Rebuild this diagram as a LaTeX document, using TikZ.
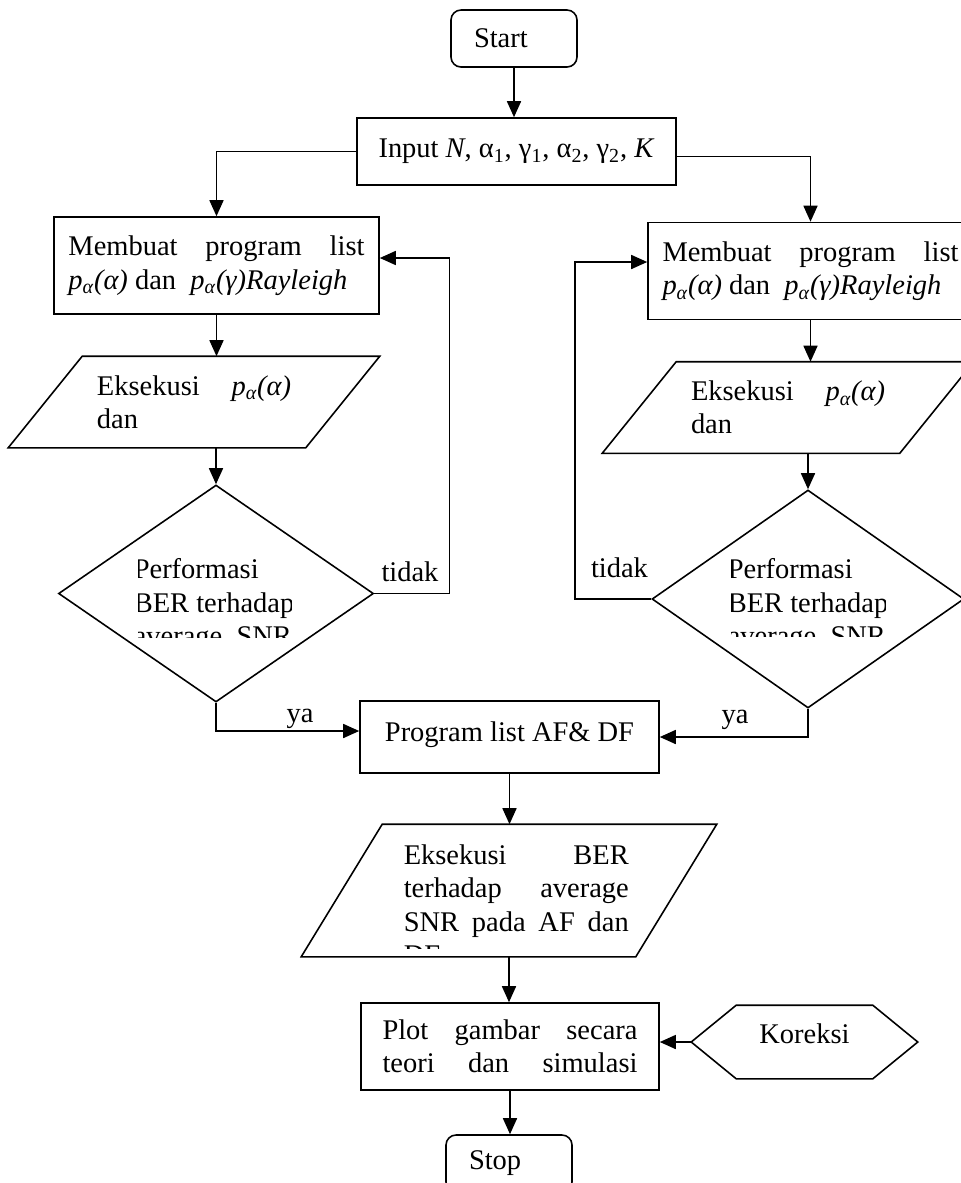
\documentclass[tikz,border=0pt]{standalone}
\usepackage{fontspec}
\setmainfont{Liberation Serif}
\usetikzlibrary{shapes.geometric,arrows.meta}
\hyphenpenalty=10000
\tolerance=10000
\hbadness=10000
\newcommand\flowfont{\fontsize{16.2pt}{19pt}\selectfont}
\newcommand\liftby[2]{\raisebox{#1}[\height][\depth]{#2}}

\begin{document}
\begin{tikzpicture}[
  x=0.2mm, y=-0.2mm, line width=0.9pt,
  >={Triangle[length=3.2mm,width=2.8mm]},
  every node/.style={font=\flowfont},
  term/.style={draw, rounded corners=2mm, minimum height=11.4mm, text width=16mm, inner xsep=4.6mm, align=left},
  process/.style={draw, rectangle, minimum width=65mm, minimum height=19.4mm, text width=59.2mm, align=justify},
  io/.style={rectangle, minimum width=74mm, minimum height=18mm, text width=38.8mm, align=justify},
  decision/.style={draw, diamond, inner sep=0pt, minimum width=63mm, minimum height=43.4mm},
  branch/.style={anchor=base},
  inside/.style={anchor=north west, inner sep=0pt, align=left}
]

% ---- frame (right column runs off the page) ----
\path[use as bounding box] (0,0) rectangle (961,1183);
\clip (0,0) rectangle (961,1183);

% ---- top ----
\node[term] (start) at (514,38.5) {Start};
\node[draw, minimum width=63.8mm, minimum height=13.4mm] (input) at (516.5,151.5)
  {Input \textit{N}, α\textsubscript{1}, γ\textsubscript{1}, α\textsubscript{2}, γ\textsubscript{2}, \textit{K}};

% ---- left branch ----
\node[process] (list1) at (216.5,265.5)
  {Membuat program list\linebreak \textit{p\textsubscript{α}(α)} dan~ \textit{p\textsubscript{α}(γ)Rayleigh}};
\node[io] (exe1) at (194,402) {Eksekusi \textit{p\textsubscript{α}(α)}\linebreak dan};
\draw ([xshift=14.8mm]exe1.north west) -- (exe1.north east)
  -- ([xshift=-14.8mm]exe1.south east) -- (exe1.south west) -- cycle;
\node[decision] (check1) at (216,593.5) {};
\begin{scope}
  \clip (138,540) rectangle (291,637);
  \node[inside] (perf1) at (133,558) {Performasi\\BER terhadap\\average~ SNR};
\end{scope}

% ---- right branch ----
\node[process] (list2) at (810.5,271)
  {Membuat program list\linebreak \textit{p\textsubscript{α}(α)} dan~ \textit{p\textsubscript{α}(γ)Rayleigh}};
\node[io] (exe2) at (788,407.5) {Eksekusi \textit{p\textsubscript{α}(α)}\linebreak dan};
\draw ([xshift=14.8mm]exe2.north west) -- (exe2.north east)
  -- ([xshift=-14.8mm]exe2.south east) -- (exe2.south west) -- cycle;
\node[decision, minimum width=62.4mm, minimum height=43.6mm] (check2) at (808,599) {};
\begin{scope}
  \clip (731,540) rectangle (885,636);
  \node[inside] (perf2) at (727,558) {Performasi\\BER terhadap\\average~ SNR};
\end{scope}

% ---- bottom ----
\node[draw, minimum width=59.8mm, minimum height=14.4mm] (prog) at (509.5,737)
  {\liftby{0.4mm}{Program list AF\& DF}};
\node[rectangle, minimum width=82.8mm, minimum height=26.2mm] (exe3) at (509,890.5) {};
\draw ([xshift=16.2mm]exe3.north west) -- (exe3.north east)
  -- ([xshift=-16.2mm]exe3.south east) -- (exe3.south west) -- cycle;
\begin{scope}
  \clip (395,830) rectangle (640,948);
  \node[inside, text width=45mm, align=justify] (exe3txt) at (403,844)
    {Eksekusi BER\linebreak terhadap average\linebreak SNR pada AF dan\linebreak DF};
\end{scope}
\node[draw, minimum width=59.6mm, minimum height=17.4mm, text width=51mm, align=justify] (plot) at (510,1046.5)
  {Plot gambar secara\linebreak \makebox[51mm][s]{teori dan simulasi}};
\node[minimum width=45mm, minimum height=14.4mm] (fix) at (804.5,1042) {\liftby{1.6mm}{Koreksi}};
\draw (fix.west) -- ([xshift=9mm]fix.north west) -- ([xshift=-9mm]fix.north east)
  -- (fix.east) -- ([xshift=-9mm]fix.south east) -- ([xshift=9mm]fix.south west) -- cycle;
\node[term] (stop) at (509,1163.5) {Stop};

% ---- branch labels ----
\node[branch] (no1) at (410,581) {tidak};
\node[branch] (no2) at (619.5,577) {tidak};
\node[branch] (yes1) at (300,722) {ya};
\node[branch] (yes2) at (735,723) {ya};

% ---- connectors ----
\draw[->] (start.south) -- (start.south |- input.north);
\draw[->] (input.west) -| (list1.north);
\draw[->] ([yshift=-1mm]input.east) -| (list2.north);
\draw[->] (list1.south) -- (list1.south |- exe1.north);
\draw[->] (list2.south) -- (list2.south |- exe2.north);
\draw[->] (check1.north |- exe1.south) -- (check1.north);
\draw[->] (check2.north |- exe2.south) -- (check2.north);
\draw[->] (check1.east) -- ++(75,0) |- ([yshift=1.5mm]list1.east);
\draw[->] (check2.west) -- ++(-76,0) |- ([yshift=1.8mm]list2.west);
\draw[->] (check1.south) |- ([yshift=1.2mm]prog.west);
\draw[->] (check2.south) |- (prog.east);
\draw[->] (prog.south) -- (prog.south |- exe3.north);
\draw[->] (exe3.south) -- (exe3.south |- plot.north);
\draw[->] (fix.west) -- (fix.west -| plot.east);
\draw[->] (plot.south) -- (plot.south |- stop.north);

\end{tikzpicture}
\end{document}
